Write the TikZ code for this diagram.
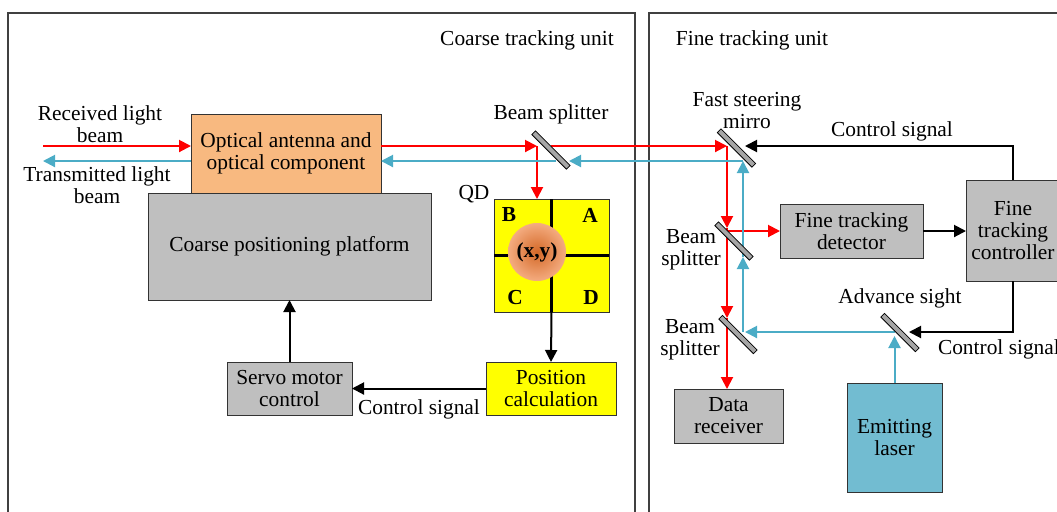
\documentclass[tikz,border=0pt]{standalone}
\usepackage{fontspec}
\setmainfont{Liberation Serif}
\usetikzlibrary{arrows.meta}
\definecolor{beamred}{RGB}{255,0,0}
\definecolor{beamcyan}{RGB}{75,172,198}
\definecolor{antcol}{RGB}{248,185,128}
\definecolor{qdyellow}{RGB}{255,255,0}
\definecolor{boxgray}{RGB}{191,191,191}
\definecolor{lasercol}{RGB}{114,188,209}
\definecolor{spotin}{RGB}{212,105,40}
\definecolor{spotout}{RGB}{244,172,128}
\definecolor{framecol}{RGB}{64,64,64}
\pgfdeclareradialshading{qdspot}{\pgfpoint{0bp}{0bp}}{color(0bp)=(spotin); color(25bp)=(spotout); color(50bp)=(spotout)}

\begin{document}
\begin{tikzpicture}[x=0.5pt,y=-0.5pt,inner sep=0pt,outer sep=0pt,
>={Triangle[length=6pt,width=6pt]},
every node/.style={font=\fontsize{10.7}{11}\selectfont,align=center},
sysblock/.style={draw=black!80,thin,rectangle},
graybox/.style={sysblock,fill=boxgray},
mirror/.style={draw=black,fill=gray!70,rectangle,rotate=-45,minimum width=24.5pt,minimum height=2.6pt},
redbeam/.style={->,beamred,line width=1pt},
cyanbeam/.style={->,beamcyan,line width=1pt},
ctrl/.style={->,black,line width=1pt},
frame/.style={framecol,line width=1pt}]
\useasboundingbox (0,0) rectangle (1057,511);

\draw[frame] (8,525) -- (8,13) -- (635,13) -- (635,525);
\draw[frame] (649,525) -- (649,13) -- (1060,13);
\node (ctitle) at (527,40) {Coarse tracking unit};
\node (ftitle) at (752,40) {Fine tracking unit};

\node[graybox,minimum width=141.5pt,minimum height=53.5pt] (platform) at (289.5,246.5) {Coarse positioning platform};
\node[sysblock,fill=antcol,minimum width=95pt,minimum height=39.5pt] (antenna) at (286,153.5) {Optical antenna and\\optical component};
\node (rinlabel) at (100,124) {Received light\\beam};
\node (toutlabel) at (97,185) {Transmitted light\\beam};

\node[sysblock,fill=qdyellow,minimum width=57.5pt,minimum height=56.5pt] (qd) at (551.5,255.5) {};
\draw[line width=1.5pt] (qd.north) -- (qd.south);
\draw[line width=1.5pt] (qd.west) -- (qd.east);
\node[circle,minimum size=29pt,shading=qdspot] (spot) at (537,252) {\bfseries (x,y)};
\node (qdb) at (509,215) {\bfseries B};
\node (qda) at (590,215) {\bfseries A};
\node (qdc) at (515,298) {\bfseries C};
\node (qdd) at (591,298) {\bfseries D};
\node (qdlabel) at (474,194) {QD};

\node[sysblock,fill=qdyellow,minimum width=65pt,minimum height=26.5pt] (poscalc) at (551,388.5) {Position\\calculation};
\node[graybox,minimum width=62.5pt,minimum height=26.5pt] (servo) at (289.5,388.5) {Servo motor\\control};

\node[graybox,minimum width=71.5pt,minimum height=27pt] (ftd) at (851.5,231) {Fine tracking\\detector};
\node[graybox,minimum width=47pt,minimum height=50.5pt] (ftc) at (1013,230.5) {Fine\\tracking\\controller};
\node[graybox,minimum width=54.5pt,minimum height=27pt] (data) at (728.5,416) {Data\\receiver};
\node[sysblock,fill=lasercol,minimum width=47.5pt,minimum height=54.5pt] (laser) at (894.5,437.5) {Emitting\\laser};

\node (bs1label) at (551,114) {Beam splitter};
\node (fsmlabel) at (747,111) {Fast steering\\mirro};
\node (bs2label) at (691,250) {Beam\\splitter};
\node (bs3label) at (690,340) {Beam\\splitter};
\node (advlabel) at (900,298) {Advance sight};
\node (ctrl1) at (892,131) {Control signal};
\node[anchor=west] (ctrl2) at (938,349) {Control signal};
\node (ctrl3) at (419,409) {Control signal};

\coordinate (rin) at (43,146);
\coordinate (tout) at (43,161);
\coordinate (r1) at (537,146);
\coordinate (r1b) at (551,146);
\coordinate (r2) at (727,146);
\coordinate (r3) at (727,228);
\coordinate (r4) at (727,318);
\coordinate (c0) at (895,336);
\coordinate (c1) at (895,332);
\coordinate (c2) at (745,332);
\coordinate (c3) at (743,257);
\coordinate (c4) at (743,161);
\coordinate (c5) at (569,161);
\coordinate (c6) at (556,161);
\coordinate (k1) at (745,146);
\coordinate (k2) at (909,332);

\draw[redbeam] (rin) -- (rin -| antenna.west);
\draw[cyanbeam] (tout -| antenna.west) -- (tout);
\draw[redbeam] (rin -| antenna.east) -- (r1);
\draw[redbeam] (r1) -- (r1 |- qd.north);
\draw[redbeam] (r1b) -- (r2);
\draw[redbeam] (r2) -- (r3);
\draw[redbeam] (r3) -- (r4);
\draw[redbeam] (r4) -- (r4 |- data.north);
\draw[redbeam] (r3 |- ftd.west) -- (ftd.west);

\draw[cyanbeam] (laser.north) -- (laser.north |- c0);
\draw[cyanbeam] (c1) -- (c2);
\draw[cyanbeam] (c3 |- c2) -- (c3);
\draw[cyanbeam] (c3) -- (c3 |- c4);
\draw[cyanbeam] (c4) -- (c5);
\draw[cyanbeam] (c6) -- (c6 -| antenna.east);

\draw[ctrl] (ftc.north) |- (k1);
\draw[ctrl] (ftc.south) |- (k2);
\draw[ctrl] (ftd.east) -- (ftd.east -| ftc.west);
\draw[ctrl] (qd.south) -- (poscalc.north);
\draw[ctrl] (poscalc.west) -- (servo.east);
\draw[ctrl] (servo.north) -- (servo.north |- platform.south);

\node[mirror] (bs1) at (551,150) {};
\node[mirror] (fsm) at (736.5,148) {};
\node[mirror] (bs2) at (734,241) {};
\node[mirror] (bs3) at (738,334.5) {};
\node[mirror] (adv) at (900,332.5) {};
\end{tikzpicture}
\end{document}
